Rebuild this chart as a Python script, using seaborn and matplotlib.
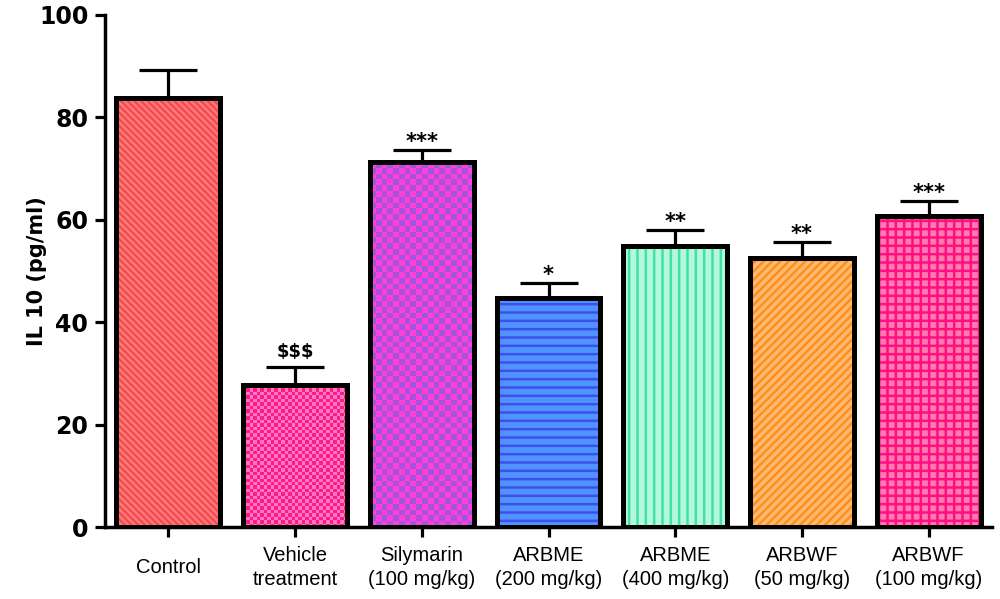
import numpy as np
import matplotlib
matplotlib.use("Agg")
import matplotlib.pyplot as plt
from matplotlib.colors import ListedColormap
import seaborn as sns

# values
groups = ["Control", "Vehicle\ntreatment", "Silymarin\n(100 mg/kg)", "ARBME\n(200 mg/kg)",
          "ARBME\n(400 mg/kg)", "ARBWF\n(50 mg/kg)", "ARBWF\n(100 mg/kg)"]
il10 = [83.8, 27.7, 71.2, 44.7, 54.9, 52.6, 60.7]
sem = [5.5, 3.5, 2.4, 3.0, 3.1, 3.1, 3.0]
marks = ["", "$$$", "***", "*", "**", "**", "***"]

face_colors = ["#FF7474", "#FF1A8C", "#FF40D8", "#4F93FF", "#B4F7DE", "#FFB870", "#FF7AB0"]
pattern_colors = ["#EE4248", "#FF78BE", "#A552DC", "#3F4FEE", "#3FE3A2", "#FF8C14", "#FF0F82"]
patterns = ["\\\\\\\\\\", "checker_s", "checker_l", "--", "||", "////", "++"]
hatch_widths = [1.2, 0, 0, 1.8, 1.8, 1.6, 1.8]

sns.set_style("ticks")
plt.rcParams["font.family"] = ["Liberation Sans", "DejaVu Sans"]
for k in ["text.color", "axes.labelcolor", "xtick.color", "ytick.color", "axes.edgecolor"]:
    plt.rcParams[k] = "black"

fig = plt.figure(figsize=(10, 5.99), dpi=100)
ax = fig.add_axes([0.105, 0.12, 0.887, 0.855])

sns.barplot(x=groups, y=il10, hue=groups, palette=face_colors, saturation=1, width=0.82,
            linewidth=0, legend=False, ax=ax, zorder=1)
ax.set_xlim(-0.5, len(groups) - 0.5)
ax.set_ylim(0, 100)


def checker(ax, patch, cell_px, c1, c2):
    x0, w, h = patch.get_x(), patch.get_width(), patch.get_height()
    p0 = ax.transData.transform((x0, 0))
    p1 = ax.transData.transform((x0 + w, h))
    nx = max(1, int(round((p1[0] - p0[0]) / cell_px)))
    ny = max(1, int(round((p1[1] - p0[1]) / cell_px)))
    grid = np.indices((ny, nx)).sum(axis=0) % 2
    im = ax.imshow(grid, cmap=ListedColormap([c1, c2]), extent=(x0, x0 + w, 0, h),
                   aspect="auto", interpolation="nearest", zorder=2)
    im.set_clip_path(patch)


xs = np.arange(len(groups))
bars = list(ax.patches)
for i, (patch, pat) in enumerate(zip(bars, patterns)):
    if pat == "checker_s":
        checker(ax, patch, 3.5, face_colors[i], pattern_colors[i])
    elif pat == "checker_l":
        checker(ax, patch, 5.8, face_colors[i], pattern_colors[i])
    else:
        plt.rcParams["hatch.linewidth"] = hatch_widths[i]
        ax.bar(xs[i], il10[i], width=0.82, fill=False, hatch=pat,
               edgecolor=pattern_colors[i], linewidth=0, zorder=2)

ax.set_xlim(-0.5, len(groups) - 0.5)
ax.set_ylim(0, 100)

# outlines and upper error bars
ax.bar(xs, il10, width=0.82, fill=False, edgecolor="black", linewidth=3.6, zorder=4)
ax.errorbar(xs, il10, yerr=[np.zeros(len(sem)), sem], fmt="none", ecolor="black",
            elinewidth=2.3, capsize=21, capthick=2.3, zorder=3)

for x, v, e, m in zip(xs, il10, sem, marks):
    if m:
        off = 2.0 if m.startswith("$") else 0.4
        ax.text(x, v + e + off, m, ha="center", va="baseline",
                fontsize=13 if m.startswith("$") else 15,
                fontweight="bold", family="DejaVu Sans", parse_math=False)

sns.despine(ax=ax)
for s in ["left", "bottom"]:
    ax.spines[s].set_linewidth(2.5)
ax.tick_params(axis="both", direction="out", length=7, width=2.3, color="black")
ax.set_yticks([0, 20, 40, 60, 80, 100])
ax.set_yticklabels(["0", "20", "40", "60", "80", "100"], fontsize=17,
                   fontweight="bold", family="DejaVu Sans")
ax.tick_params(axis="y", pad=5)
ax.set_xticks(xs)
ax.set_xticklabels(groups, fontsize=14.5, linespacing=1.3)
for lab in ax.get_xticklabels():
    lab.set_verticalalignment("center")
ax.tick_params(axis="x", pad=22)
ax.set_xlabel("")
ax.set_ylabel("IL 10 (pg/ml)", fontsize=15, fontweight="bold", family="DejaVu Sans",
              labelpad=-6)

fig.savefig("out.png", dpi=100)
